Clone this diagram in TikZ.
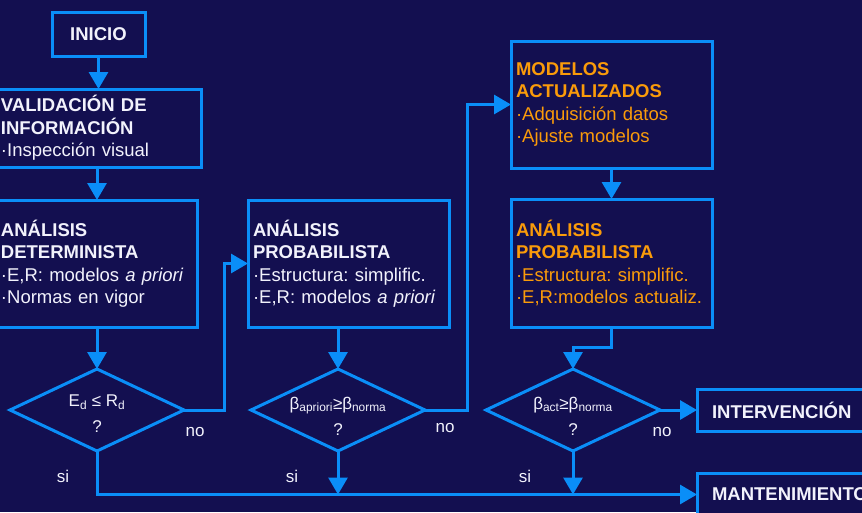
\documentclass[tikz,border=0pt]{standalone}
\usepackage{fontspec}
\setmainfont{Liberation Sans}
\usetikzlibrary{arrows.meta,shapes.geometric}
\definecolor{bgc}{RGB}{19,15,80}
\definecolor{lnc}{RGB}{10,142,248}
\definecolor{orc}{RGB}{250,155,10}
\definecolor{txc}{RGB}{242,242,252}
\begin{document}
\frenchspacing
\begin{tikzpicture}[x=1pt,y=-1pt,
  box/.style={draw=lnc, line width=3pt, fill=bgc, text=txc,
    font=\fontsize{18.5}{22.5}\selectfont, align=left, inner xsep=5pt,
    inner ysep=0pt, outer sep=0pt, anchor=north west},
  obox/.style={box, text=orc},
  dia/.style={draw=lnc, line width=3pt, shape=diamond, minimum width=174pt,
    minimum height=82pt, inner sep=0pt, outer sep=0pt},
  dtext/.style={text=txc, font=\fontsize{17}{26}\selectfont, align=center, inner sep=0pt},
  lab/.style={text=txc, font=\fontsize{17}{20}\selectfont, inner sep=0pt},
  conn/.style={draw=lnc, line width=3pt},
  arr/.style={conn, -{Triangle[length=17pt,width=19pt]}}]
\fill[bgc] (0,0) rectangle (862,512);
\useasboundingbox (0,0) rectangle (862,512);
\clip (0,0) rectangle (862,512);

% boxes
\node[box, align=center, text width=83pt, minimum width=93pt, minimum height=44pt]
  (ini) at (52,12) {\textbf{INICIO}};
\node[box, text width=195pt, minimum width=205pt, minimum height=78pt]
  (val) at (-4,89) {\textbf{VALIDACIÓN DE}\\\textbf{INFORMACIÓN}\\·Inspección visual};
\node[box, text width=191pt, minimum width=201pt, minimum height=127pt]
  (det) at (-4,200) {\textbf{ANÁLISIS}\\\textbf{DETERMINISTA}\\·E,R: modelos \textit{a priori}\\·Normas en vigor};
\node[box, text width=191pt, minimum width=201pt, minimum height=127pt]
  (pa) at (248,200) {\textbf{ANÁLISIS}\\\textbf{PROBABILISTA}\\·Estructura: simplific.\\·E,R: modelos \textit{a priori}};
\node[obox, text width=191pt, minimum width=201pt, minimum height=127pt]
  (ma) at (511,41) {\textbf{MODELOS}\\\textbf{ACTUALIZADOS}\\·Adquisición datos\\·Ajuste modelos};
\node[obox, text width=191pt, minimum width=201pt, minimum height=128pt]
  (pb) at (511,199) {\textbf{ANÁLISIS}\\\textbf{PROBABILISTA}\\·Estructura: simplific.\\·E,R:modelos actualiz.};
\node[box, inner xsep=15pt, text width=170pt, minimum width=200pt, minimum height=42pt]
  (int) at (697,389) {\textbf{INTERVENCIÓN}};
\node[box, inner xsep=15pt, text width=170pt, minimum width=200pt, minimum height=43pt]
  (mant) at (697,473) {\textbf{MANTENIMIENTO}};

% decisions
\node[dia] (d1) at (97,410) {};
\node[dia] (d2) at (338,410) {};
\node[dia] (d3) at (573,410) {};
\node[dtext] (d1t) at (97,414) {E\textsubscript{d} ≤ R\textsubscript{d}\\?};
\node[dtext] (d2t) at (338,416) {β\textsubscript{apriori}≥β\textsubscript{norma}\\?};
\node[dtext] (d3t) at (573,416) {β\textsubscript{act}≥β\textsubscript{norma}\\?};

% labels
\node[lab] (no1) at (195,432) {no};
\node[lab] (si1) at (63,476) {si};
\node[lab] (no2) at (445,428) {no};
\node[lab] (si2) at (292,476) {si};
\node[lab] (no3) at (662,432) {no};
\node[lab] (si3) at (525,476) {si};

% connectors
\draw[arr] (ini.south) -- (ini.south |- val.north);
\draw[arr] (d1.north |- val.south) -- (d1.north |- det.north);
\draw[arr] (d1.north |- det.south) -- (d1.north);
\draw[arr] (d1.east) -- ++(40,0) |- (pa.west);
\draw[arr] (d1.south) |- (mant.west);
\draw[arr] (d2.north |- pa.south) -- (d2.north);
\draw[arr] (d2.east) -- ++(42,0) |- (ma.west);
\draw[arr] (d2.south) -- (d2.south |- mant.west);
\draw[arr] (ma.south) -- (pb.north);
\draw[arr] (pb.south) -- ++(0,20) -| (d3.north);
\draw[arr] (d3.east) -- (int.west);
\draw[arr] (d3.south) -- (d3.south |- mant.west);
\end{tikzpicture}
\end{document}
